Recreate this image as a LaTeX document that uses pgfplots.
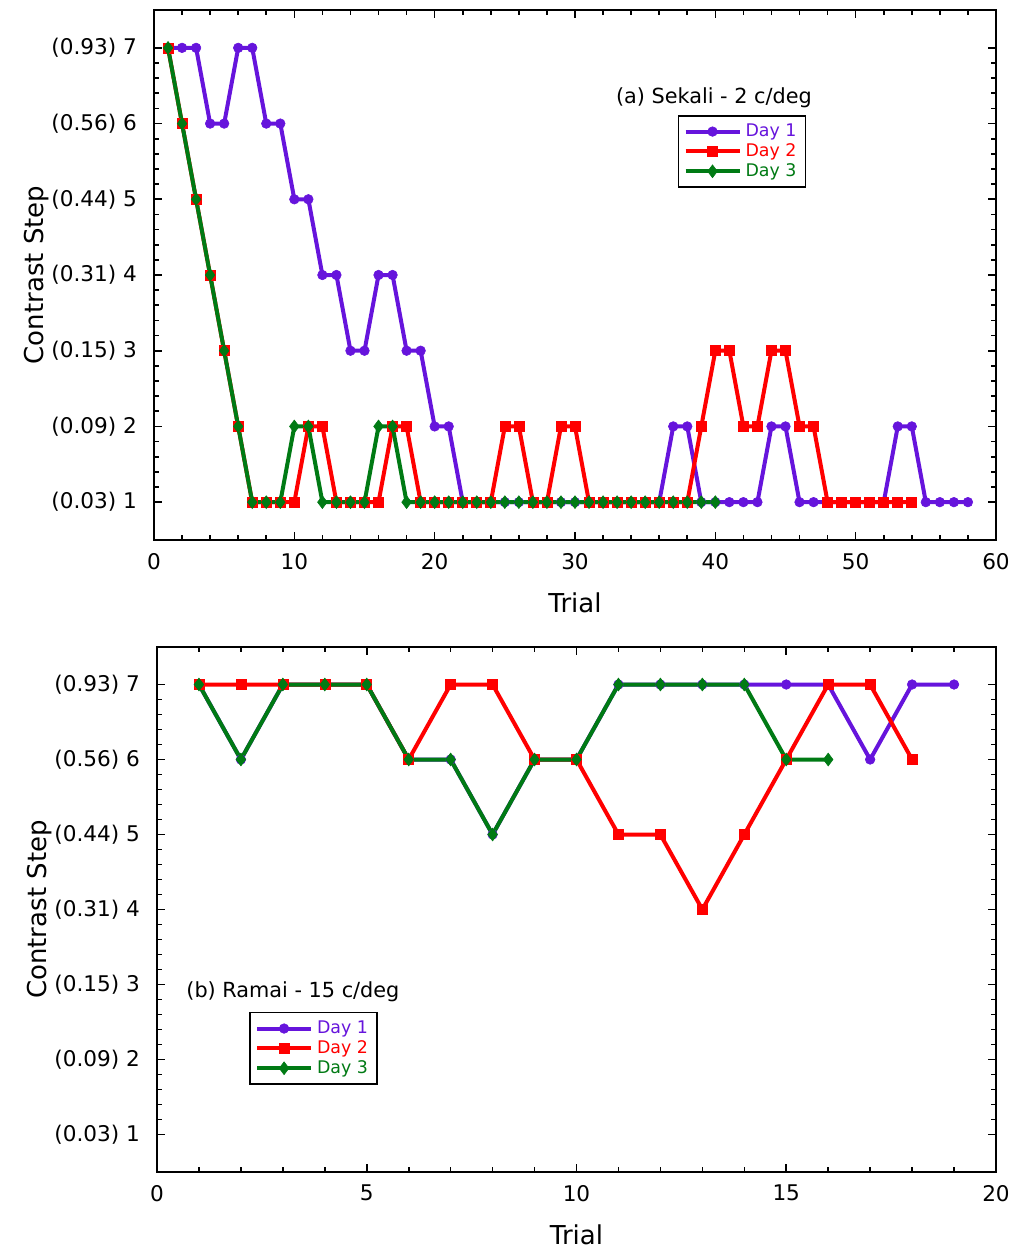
\documentclass[border=0pt]{standalone}
\usepackage{fontspec}
\setmainfont{DejaVu Sans}
\usepackage{pgfplots}
\pgfplotsset{compat=1.18}

\definecolor{dayone}{RGB}{102,20,220}
\definecolor{daytwo}{RGB}{255,0,0}
\definecolor{daythree}{RGB}{0,122,20}

\pgfplotsset{
  contrast/.style={
    scale only axis,
    ymin=0.5, ymax=7.5,
    ytick={1,...,7},
    yticklabels={{(0.03) 1},{(0.09) 2},{(0.15) 3},{(0.31) 4},{(0.44) 5},{(0.56) 6},{(0.93) 7}},
    minor x tick num=4, minor y tick num=4,
    tick align=inside,
    major tick length=4pt, minor tick length=2.5pt,
    every tick/.style={black, line width=0.8pt},
    axis line style={line width=1pt},
    /pgf/number format/assume math mode=true,
    tick label style={font=\fontsize{10.8}{13}\selectfont},
    yticklabel style={xshift=-5pt},
    xticklabel style={yshift=-3pt},
    xlabel={Trial}, ylabel={Contrast Step},
    label style={font=\fontsize{13}{15}\selectfont},
    xlabel style={at={([yshift=-31.5pt]axis description cs:0.5,0)}, anchor=center},
    ylabel style={at={([xshift=-58.5pt]axis description cs:0,0.5)}, anchor=center, rotate=0},
    legend cell align=left,
    legend style={draw=black, line width=0.8pt, font=\fontsize{8.7}{10}\selectfont,
      inner xsep=2.5pt, inner ysep=2pt, row sep=-2pt},
    legend image code/.code={
      \draw[mark repeat=2, mark phase=2] plot coordinates {(0pt,0pt) (13.5pt,0pt) (27pt,0pt)};},
  },
  d1/.style={dayone, line width=2pt, mark=*, mark size=2.4pt, mark options={solid, line width=0.3pt}},
  d2/.style={daytwo, line width=2pt, mark=square*, mark size=2.5pt, mark options={solid, line width=0.3pt}},
  d3/.style={daythree, line width=2pt, mark=diamond*, mark size=3.2pt, mark options={solid, line width=0.3pt}},
}

\begin{document}
\begin{tikzpicture}
\useasboundingbox (0,0) rectangle (506pt,-624.5pt);

% (a) Sekali - 2 c/deg
\begin{axis}[contrast, at={(77pt,-5pt)}, anchor=north west,
  width=421pt, height=265pt,
  xmin=0, xmax=60, xtick={0,10,...,60},
  legend style={at={(0.622,0.802)}, anchor=north west}]
\addplot[d1] coordinates {
  (1,7) (2,7) (3,7) (4,6) (5,6) (6,7) (7,7) (8,6) (9,6) (10,5)
  (11,5) (12,4) (13,4) (14,3) (15,3) (16,4) (17,4) (18,3) (19,3) (20,2)
  (21,2) (22,1) (23,1) (24,1) (25,1) (26,1) (27,1) (28,1) (29,1) (30,1)
  (31,1) (32,1) (33,1) (34,1) (35,1) (36,1) (37,2) (38,2) (39,1) (40,1)
  (41,1) (42,1) (43,1) (44,2) (45,2) (46,1) (47,1) (48,1) (49,1) (50,1)
  (51,1) (52,1) (53,2) (54,2) (55,1) (56,1) (57,1) (58,1)};
\addlegendentry{\textcolor{dayone}{Day 1}}
\addplot[d2] coordinates {
  (1,7) (2,6) (3,5) (4,4) (5,3) (6,2) (7,1) (8,1) (9,1) (10,1)
  (11,2) (12,2) (13,1) (14,1) (15,1) (16,1) (17,2) (18,2) (19,1) (20,1)
  (21,1) (22,1) (23,1) (24,1) (25,2) (26,2) (27,1) (28,1) (29,2) (30,2)
  (31,1) (32,1) (33,1) (34,1) (35,1) (36,1) (37,1) (38,1) (39,2) (40,3)
  (41,3) (42,2) (43,2) (44,3) (45,3) (46,2) (47,2) (48,1) (49,1) (50,1)
  (51,1) (52,1) (53,1) (54,1)};
\addlegendentry{\textcolor{daytwo}{Day 2}}
\addplot[d3] coordinates {
  (1,7) (2,6) (3,5) (4,4) (5,3) (6,2) (7,1) (8,1) (9,1) (10,2)
  (11,2) (12,1) (13,1) (14,1) (15,1) (16,2) (17,2) (18,1) (19,1) (20,1)
  (21,1) (22,1) (23,1) (24,1) (25,1) (26,1) (27,1) (28,1) (29,1) (30,1)
  (31,1) (32,1) (33,1) (34,1) (35,1) (36,1) (37,1) (38,1) (39,1) (40,1)};
\addlegendentry{\textcolor{daythree}{Day 3}}
\node[font=\fontsize{10.4}{12}\selectfont] at (rel axis cs:0.665,0.834) {(a) Sekali - 2 c/deg};
\end{axis}

% (b) Ramai - 15 c/deg
\begin{axis}[contrast, at={(78.5pt,-323.5pt)}, anchor=north west,
  width=419.5pt, height=262.5pt,
  xmin=0, xmax=20, xtick={0,5,...,20},
  legend style={at={(0.110,0.305)}, anchor=north west}]
\addplot[d1] coordinates {
  (1,7) (2,6) (3,7) (4,7) (5,7) (6,6) (7,6) (8,5) (9,6) (10,6)
  (11,7) (12,7) (13,7) (14,7) (15,7) (16,7) (17,6) (18,7) (19,7)};
\addlegendentry{\textcolor{dayone}{Day 1}}
\addplot[d2] coordinates {
  (1,7) (2,7) (3,7) (4,7) (5,7) (6,6) (7,7) (8,7) (9,6) (10,6)
  (11,5) (12,5) (13,4) (14,5) (15,6) (16,7) (17,7) (18,6)};
\addlegendentry{\textcolor{daytwo}{Day 2}}
\addplot[d3] coordinates {
  (1,7) (2,6) (3,7) (4,7) (5,7) (6,6) (7,6) (8,5) (9,6) (10,6)
  (11,7) (12,7) (13,7) (14,7) (15,6) (16,6)};
\addlegendentry{\textcolor{daythree}{Day 3}}
\node[font=\fontsize{10.4}{12}\selectfont] at (rel axis cs:0.162,0.343) {(b) Ramai - 15 c/deg};
\end{axis}
\end{tikzpicture}
\end{document}
